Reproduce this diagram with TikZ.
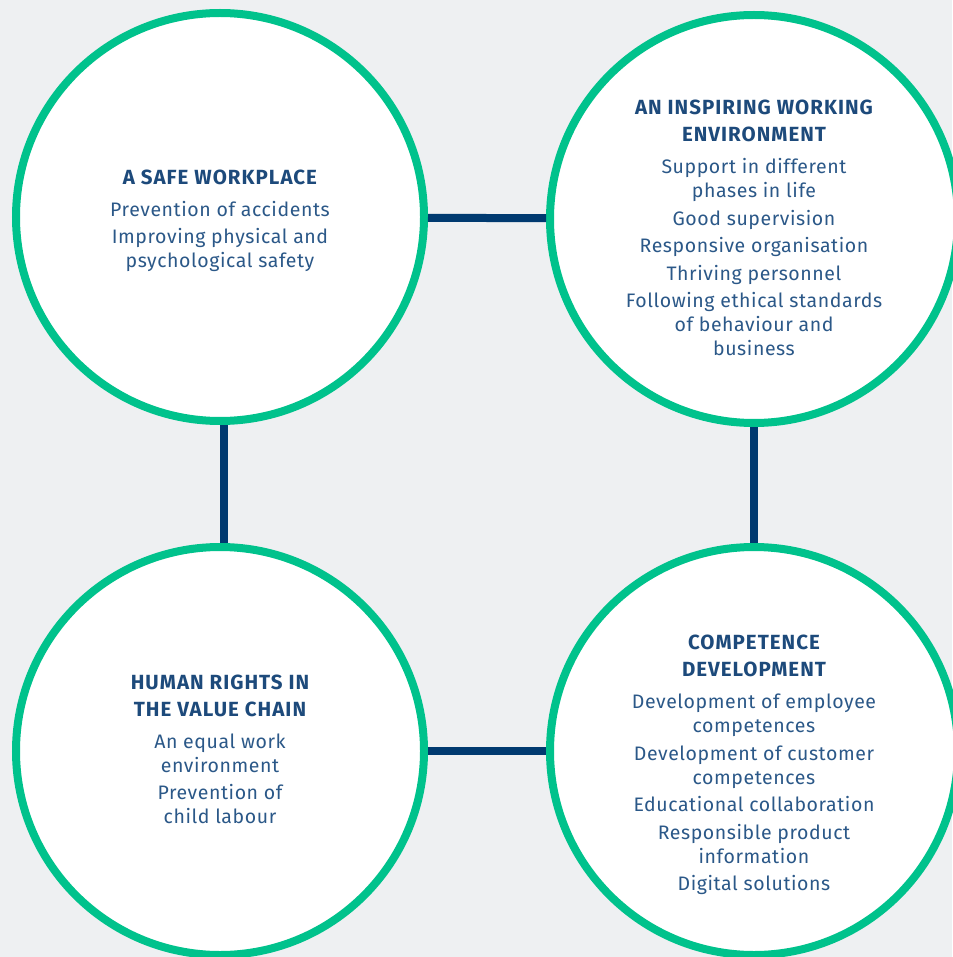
\documentclass[tikz,border=0pt]{standalone}
\usepackage{fontspec}
\setmainfont[LetterSpace=3]{Fira Sans}

\definecolor{backgrey}{HTML}{EEF0F2}
\definecolor{ringgreen}{HTML}{00C28C}
\definecolor{linkblue}{HTML}{003A70}
\definecolor{headblue}{HTML}{1D4A7B}
\definecolor{textblue}{HTML}{2B5888}

\tikzset{
  ring/.style={circle,draw=ringgreen,line width=8pt,fill=white,minimum size=408pt,inner sep=0pt},
  link/.style={draw=linkblue,line width=8pt},
  blurb/.style={align=center,text=textblue,font=\fontsize{19.5}{24}\selectfont}
}
\newcommand{\heading}[1]{{\fontsize{20.5}{24}\bfseries\addfontfeature{LetterSpace=5}\color{headblue}#1}}

\begin{document}
\begin{tikzpicture}[x=1pt,y=-1pt]
\fill[backgrey] (0,0) rectangle (952,957);
\useasboundingbox (0,0) rectangle (952,957);

% the four circles
\node[ring] (safe) at (220,217) {};
\node[ring] (inspire) at (754,219) {};
\node[ring] (rights) at (220,751) {};
\node[ring] (growth) at (754,751) {};

% links between them
\draw[link] (safe) -- (inspire);
\draw[link] ([xshift=4pt]safe.south) -- ([xshift=4pt]rights.north);
\draw[link] (inspire) -- (growth);
\draw[link] (rights) -- (growth);

% texts
\node[blurb,yshift=-4pt] (safetext) at (safe) {\heading{A SAFE WORKPLACE}\\[8pt]
  Prevention of accidents\\[3.5pt]
  Improving physical and\\ psychological safety};
\node[blurb,yshift=-9pt] (inspiretext) at (inspire) {\heading{AN INSPIRING WORKING}\\[3pt]
  \heading{ENVIRONMENT}\\[8pt]
  Support in different\\ phases in life\\[3.5pt]
  Good supervision\\[3.5pt]
  Responsive organisation\\[3.5pt]
  Thriving personnel\\[3.5pt]
  Following ethical standards\\ of behaviour and\\ business};
\node[blurb,yshift=1.5pt] (rightstext) at (rights) {\heading{HUMAN RIGHTS IN}\\[3pt]
  \heading{THE VALUE CHAIN}\\[8pt]
  An equal work\\ environment\\[3.5pt]
  Prevention of\\ child labour};
\node[blurb,yshift=-14pt] (growthtext) at (growth) {\heading{COMPETENCE}\\[3pt]
  \heading{DEVELOPMENT}\\[8pt]
  Development of employee\\ competences\\[3.5pt]
  Development of customer\\ competences\\[3.5pt]
  Educational collaboration\\[3.5pt]
  Responsible product\\ information\\[3.5pt]
  Digital solutions};
\end{tikzpicture}
\end{document}
